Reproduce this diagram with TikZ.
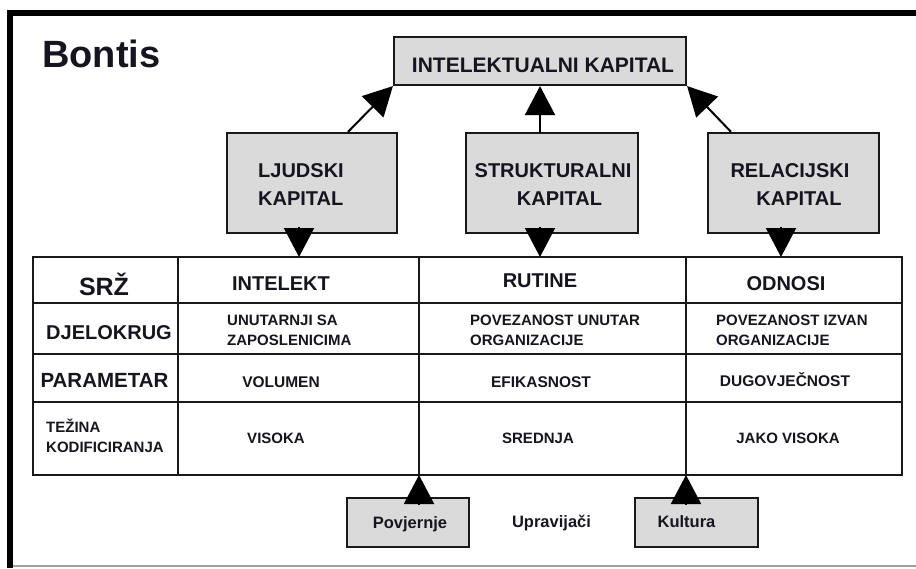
\documentclass[tikz,border=0pt]{standalone}
\usepackage{fontspec}
\setmainfont{Liberation Sans}
\usetikzlibrary{arrows.meta}
\definecolor{ink}{HTML}{151520}
\definecolor{boxgray}{HTML}{DADADA}
\definecolor{rulegray}{HTML}{A0A0A0}
\begin{document}
\begin{tikzpicture}[x=1pt,y=-1pt,
  gbox/.style={draw=black!90, line width=2.2pt, fill=boxgray, inner sep=0pt},
  lbl/.style={font=\bfseries\fontsize{#1}{#1}\selectfont, text=ink, inner sep=0pt, anchor=base},
  arr/.style={line width=2pt, draw=black, -{Triangle[length=29pt,width=30pt]}},
  grid/.style={line width=2.4pt, draw=black!90}]
\useasboundingbox (0,0) rectangle (916,568);
% frame
\draw[line width=6pt] (10,568) -- (10,13) -- (916,13);
\draw[rulegray, line width=2.5pt] (13,566) -- (916,566);
\node[lbl=38, anchor=base west] (title) at (42,67) {Bontis};
% top box
\node[gbox, minimum width=292pt, minimum height=48pt] (ik) at (540,61) {};
\node[lbl=21] (ikt) at (543,72) {INTELEKTUALNI KAPITAL};
% capital boxes
\node[gbox, minimum width=170pt, minimum height=100pt] (lj) at (312,183) {};
\node[gbox, minimum width=172pt, minimum height=100pt] (st) at (552,183) {};
\node[gbox, minimum width=171pt, minimum height=100pt] (rel) at (793.5,183) {};
\node[lbl=20, anchor=base west] (ljt1) at (258,177) {LJUDSKI};
\node[lbl=20, anchor=base west] (ljt2) at (258,205) {KAPITAL};
\node[lbl=20] (stt1) at (553,177) {STRUKTURALNI};
\node[lbl=20] (stt2) at (559.5,205) {KAPITAL};
\node[lbl=20] (relt1) at (790,177) {RELACIJSKI};
\node[lbl=20] (relt2) at (799,205) {KAPITAL};
% arrows up
\draw[arr] ([xshift=36pt]lj.north) -- (ik.south west);
\draw[arr] (ik.south |- st.north) -- (ik.south);
\draw[arr] ([xshift=-62.5pt]rel.north) -- (ik.south east);
% table
\coordinate (tA) at (299,257);
\coordinate (tB) at (540,257);
\coordinate (tC) at (781,257);
\coordinate (bP) at (419,475);
\coordinate (bK) at (686,475);
\draw[grid] (33,257) rectangle (902,475);
\draw[grid] (178,257) -- (178,475);
\draw[grid] (419,257) -- (bP);
\draw[grid] (686,257) -- (bK);
\draw[grid] (33,303) -- (902,303);
\draw[grid] (33,354) -- (902,354);
\draw[grid] (33,402) -- (902,402);
% arrows down into table
\draw[arr] (tA |- lj.south) ++(0,-7) -- (tA);
\draw[arr] (tB |- st.south) ++(0,-7) -- (tB);
\draw[arr] (tC |- rel.south) ++(0,-7) -- (tC);
% row 1
\node[lbl=25] (r1a) at (104,295) {SRŽ};
\node[lbl=20] (r1b) at (281,290) {INTELEKT};
\node[lbl=20] (r1c) at (540,287) {RUTINE};
\node[lbl=20] (r1d) at (786,290) {ODNOSI};
% row 2
\node[lbl=20] (r2a) at (109,339) {DJELOKRUG};
\node[lbl=15, anchor=base west] (r2b1) at (227,325) {UNUTARNJI SA};
\node[lbl=15, anchor=base west] (r2b2) at (227,345) {ZAPOSLENICIMA};
\node[lbl=15, anchor=base west] (r2c1) at (470,325) {POVEZANOST UNUTAR};
\node[lbl=15, anchor=base west] (r2c2) at (470,345) {ORGANIZACIJE};
\node[lbl=15, anchor=base west] (r2d1) at (716,325) {POVEZANOST IZVAN};
\node[lbl=15, anchor=base west] (r2d2) at (716,345) {ORGANIZACIJE};
% row 3
\node[lbl=20.5] (r3a) at (104.5,387) {PARAMETAR};
\node[lbl=15.5] (r3b) at (281,387) {VOLUMEN};
\node[lbl=15.5] (r3c) at (541,387) {EFIKASNOST};
\node[lbl=15.5] (r3d) at (785,386) {DUGOVJEČNOST};
% row 4
\node[lbl=15, anchor=base west] (r4a1) at (46,432) {TEŽINA};
\node[lbl=15, anchor=base west] (r4a2) at (46,452) {KODIFICIRANJA};
\node[lbl=15] (r4b) at (276,443) {VISOKA};
\node[lbl=15] (r4c) at (538,443) {SREDNJA};
\node[lbl=15] (r4d) at (788,443) {JAKO VISOKA};
% drivers
\node[gbox, minimum width=122pt, minimum height=49pt] (pov) at (408,522.5) {};
\node[gbox, minimum width=123pt, minimum height=49pt] (kul) at (696.5,522.5) {};
\node[lbl=16.5] (povt) at (410,528) {Povjernje};
\node[lbl=16.5] (kult) at (686.5,527) {Kultura};
\node[lbl=16.5] (upr) at (551.5,527) {Upravijači};
\draw[arr] (bP |- pov.north) ++(0,7) -- (bP);
\draw[arr] (bK |- kul.north) ++(0,7) -- (bK);
\end{tikzpicture}
\end{document}
